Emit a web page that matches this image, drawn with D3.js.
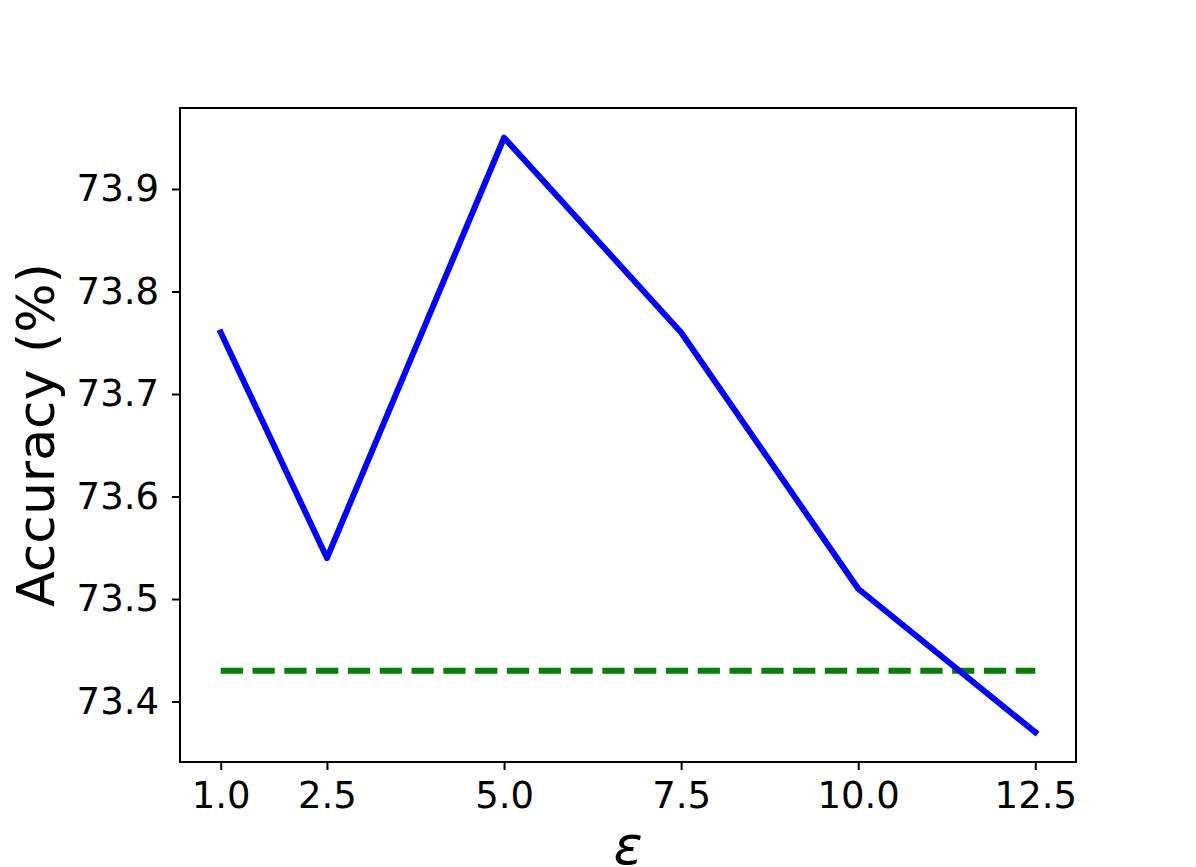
<!DOCTYPE html>
<html><head><meta charset="utf-8">
<script src="https://cdn.jsdelivr.net/npm/d3@7"></script>
<style>body{margin:0;background:#fff}svg{display:block}text{font-family:"DejaVu Sans",sans-serif}</style>
</head><body>
<svg id="c" width="1196" height="867"></svg>
<script>
const epsilons = [1.0, 2.5, 5.0, 7.5, 10.0, 12.5];
const accuracy = [73.76, 73.54, 73.95, 73.76, 73.51, 73.37];
const baseline = 73.43;
const xTicks = [1.0, 2.5, 5.0, 7.5, 10.0, 12.5];
const yTicks = [73.4, 73.5, 73.6, 73.7, 73.8, 73.9];

const svg = d3.select("#c");
const L = 180, R = 1076, T = 108, B = 762;
const xs = d3.scaleLinear().domain([0.425, 13.075]).range([L, R]);
const ys = d3.scaleLinear().domain([73.341, 73.979]).range([B, T]);

// lines
svg.append("path").datum(epsilons.map(e=>[e, baseline]))
  .attr("d", d3.line().x(d=>xs(d[0])).y(d=>ys(d[1])))
  .attr("fill","none").attr("stroke","#008000").attr("stroke-width",6)
  .attr("stroke-dasharray","22.2,9.6");
svg.append("path").datum(epsilons.map((e,i)=>[e, accuracy[i]]))
  .attr("d", d3.line().x(d=>xs(d[0])).y(d=>ys(d[1])))
  .attr("fill","none").attr("stroke","#0000ff").attr("stroke-width",6)
  .attr("stroke-linejoin","round").attr("stroke-linecap","square");

// axes
const xAxis = d3.axisBottom(xs).tickValues(xTicks).tickFormat(d3.format(".1f")).tickSize(8).tickPadding(10);
const yAxis = d3.axisLeft(ys).tickValues(yTicks).tickFormat(d3.format(".1f")).tickSize(8).tickPadding(10);
const gx = svg.append("g").attr("transform",`translate(0,${B})`).call(xAxis);
const gy = svg.append("g").attr("transform",`translate(${L},0)`).call(yAxis);
[gx,gy].forEach(g=>{
  g.select(".domain").remove();
  g.selectAll(".tick line").attr("stroke","#000").attr("stroke-width",2);
  g.selectAll(".tick text").attr("font-size",37).attr("fill","#000").attr("font-family","DejaVu Sans");
});
gx.selectAll(".tick text").attr("dy","0.71em").attr("y",20);
gy.selectAll(".tick text").attr("x",-21);

svg.append("rect").attr("x",L).attr("y",T).attr("width",R-L).attr("height",B-T)
  .attr("fill","none").attr("stroke","#000").attr("stroke-width",2);

svg.append("text").attr("transform",`translate(54,${(T+B)/2}) rotate(-90)`)
  .attr("text-anchor","middle").attr("font-size",52).text("Accuracy (%)");
svg.append("text").attr("x",(L+R)/2).attr("y",864).attr("text-anchor","middle")
  .attr("font-size",54).attr("font-style","italic").text("ε");
</script>
</body></html>
